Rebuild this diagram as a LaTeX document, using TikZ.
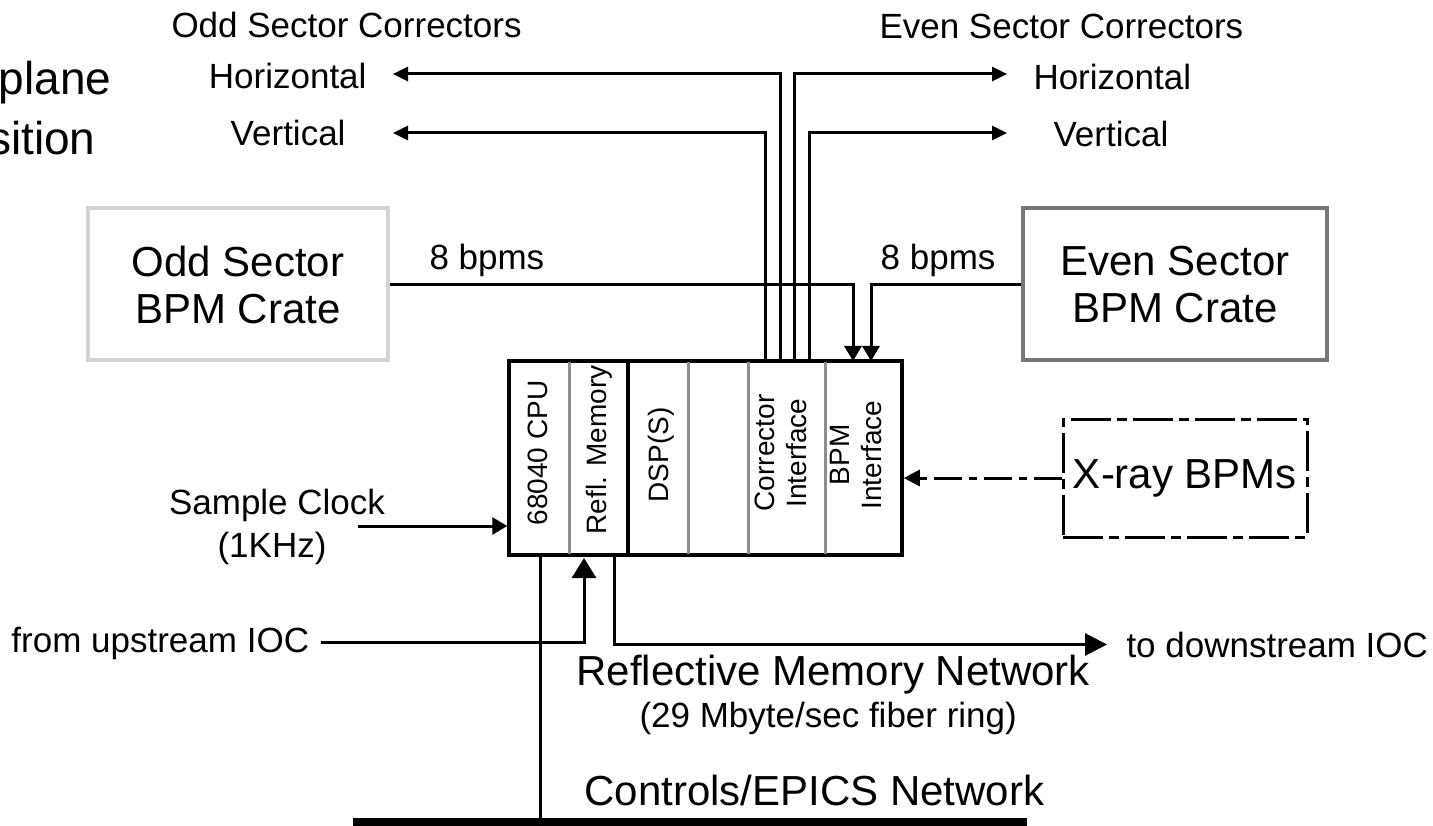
\documentclass[tikz,border=0pt]{standalone}
\usepackage{fontspec}
\setmainfont{Liberation Sans}
\usetikzlibrary{arrows.meta}
\definecolor{oddgray}{HTML}{D4D4D4}
\definecolor{evengray}{HTML}{777777}
\definecolor{slotgray}{HTML}{8E8E8E}
\begin{document}
\begin{tikzpicture}[x=1pt,y=-1pt,line width=3pt,line join=miter,
  lbl/.style={inner sep=0pt,font=\fontsize{35}{40}\selectfont},
  big/.style={inner sep=0pt,font=\fontsize{42}{47}\selectfont},
  huge/.style={inner sep=0pt,font=\fontsize{46}{50}\selectfont},
  slotlbl/.style={inner sep=0pt,rotate=90,align=center,font=\fontsize{28}{32}\selectfont},
  corrarrow/.style={-{Triangle[length=15pt,width=14pt]}},
  bpmarrow/.style={-{Triangle[length=15pt,width=17pt]}},
  uparrow/.style={-{Triangle[length=20pt,width=24pt]}},
  dnarrow/.style={-{Triangle[length=22pt,width=22pt]}},
  clkarrow/.style={-{Triangle[length=15pt,width=17pt]}},
  xarrow/.style={-{Triangle[length=16pt,width=16pt]},dash pattern=on 28pt off 7pt on 8pt off 7pt},
  crate/.style={big,align=center,line width=4pt,minimum width=300pt,minimum height=152pt}
]
\useasboundingbox (0,0) rectangle (1433,826);
\clip (0,0) rectangle (1433,826);
\fill[white] (0,0) rectangle (1433,826);

% cut-off slide text on the left
\node[huge,anchor=base east] (pl) at (113,95) {plane};
\node[huge,anchor=base east] (si) at (97,155) {sition};

% corrector labels
\node[lbl,anchor=base west] (oddcorr) at (170,37.5) {Odd Sector Correctors};
\node[lbl,anchor=base west] (evencorr) at (878,38.5) {Even Sector Correctors};
\node[lbl,anchor=base east] (oH) at (368,89) {Horizontal};
\node[lbl,anchor=base east] (oV) at (347,146) {Vertical};
\node[lbl,anchor=base west] (eH) at (1032,90) {Horizontal};
\node[lbl,anchor=base west] (eV) at (1052,147) {Vertical};

% crates
\node[crate,draw=oddgray] (odd) at (238,284.5) {Odd Sector\\BPM Crate};
\node[crate,draw=evengray,minimum width=304pt] (even) at (1175,284.5) {Even Sector\\BPM Crate};
\node[lbl,anchor=base west] (b8l) at (428,269.5) {8 bpms};
\node[lbl,anchor=base east] (b8r) at (997,269.5) {8 bpms};

% central IOC crate
\node[draw,line width=3.5pt,minimum width=393pt,minimum height=194pt,inner sep=0pt] (ioc) at (705.5,458) {};
\draw[slotgray] (569,362.5) -- (569,553.5);
\draw[slotgray] (688,362.5) -- (688,553.5);
\draw[slotgray] (748,362.5) -- (748,553.5);
\draw[slotgray] (825,362.5) -- (825,553.5);
\draw[black,line width=3.5pt] (628,361) -- (628,555);
\node[slotlbl] (s1) at (538,453) {68040 CPU};
\node[slotlbl] (s2) at (599,450) {Refl. Memory};
\node[slotlbl] (s3) at (661,455) {DSP(S)};
\node[slotlbl] (s5) at (781,453) {Corrector\\Interface};
\node[slotlbl] (s6) at (856,455) {BPM\\Interface};

% corrector connections
\coordinate (p1) at (765,361);
\coordinate (p2) at (780,361);
\coordinate (p3) at (794,361);
\coordinate (p4) at (809,361);
\coordinate (oHtip) at (393,74);
\coordinate (oVtip) at (393,133);
\coordinate (eHtip) at (1007,74);
\coordinate (eVtip) at (1007,133);
\draw[corrarrow] (p1) |- (oVtip);
\draw[corrarrow] (p2) |- (oHtip);
\draw[corrarrow] (p3) |- (eHtip);
\draw[corrarrow] (p4) |- (eVtip);

% bpm connections
\coordinate (b1) at (853,361);
\coordinate (b2) at (871,361);
\draw[bpmarrow] (odd.east) -| (b1);
\draw[bpmarrow] (even.west) -| (b2);

% sample clock
\node[lbl,anchor=base] (sc1) at (277,514.5) {Sample Clock};
\node[lbl,anchor=base] (sc2) at (272,557.5) {(1KHz)};
\coordinate (scin) at (358,526);
\draw[clkarrow] (scin) -- (ioc.west |- scin);

% x-ray bpms
\node[big,draw,line width=3pt,dash pattern=on 40pt off 6pt on 10pt off 6pt,minimum width=244pt,minimum height=118pt] (xray) at (1185,478) {X-ray BPMs};
\draw[xarrow] (xray.west) -- (ioc.east |- xray.west);

% reflective memory network
\node[lbl,anchor=base west] (upl) at (10,652) {from upstream IOC};
\node[lbl,anchor=base west] (dnl) at (1125,657) {to downstream IOC};
\coordinate (upport) at (584,558);
\coordinate (dnport) at (614,555);
\draw[uparrow,shorten <=10pt] (upl.east) -| (upport);
\draw[dnarrow,shorten >=18pt] (dnport) |- (dnl.west);
\node[big,anchor=base west] (rmn) at (575,685) {Reflective Memory Network};
\node[lbl,anchor=base west] (rmn2) at (638,727) {(29 Mbyte/sec fiber ring)};

% controls network
\node[big,anchor=base west] (ctl) at (583,805) {Controls/EPICS Network};
\coordinate (barL) at (353,822);
\coordinate (barR) at (1027,822);
\coordinate (cpuport) at (540,555);
\draw[line width=8pt] (barL) -- (barR);
\draw (cpuport) -- (cpuport |- barL);
\end{tikzpicture}
\end{document}
